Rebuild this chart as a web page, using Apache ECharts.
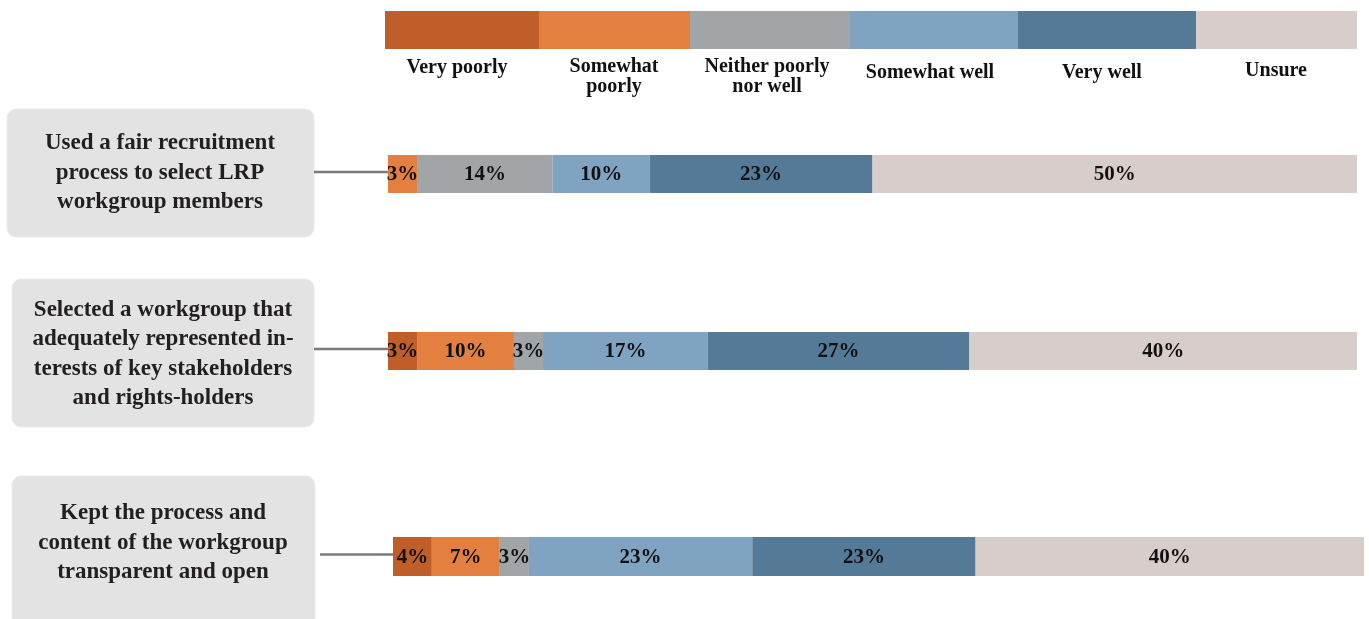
<!DOCTYPE html>
<html>
<head>
<meta charset="utf-8">
<script src="https://cdn.jsdelivr.net/npm/echarts@6/dist/echarts.min.js"></script>
<style>
html,body{margin:0;padding:0;background:#fff;}
#chart{width:1369px;height:619px;}
</style>
</head>
<body>
<div id="chart"></div>
<script>
// ---- data ----
var categories = ['Very poorly', 'Somewhat poorly', 'Neither poorly nor well', 'Somewhat well', 'Very well', 'Unsure'];
var legendLabels = ['Very poorly', 'Somewhat\npoorly', 'Neither poorly\nnor well', 'Somewhat well', 'Very well', 'Unsure'];
var questions = [
  'Used a fair recruitment\nprocess to select LRP\nworkgroup members',
  'Selected a workgroup that\nadequately represented in-\nterests of key stakeholders\nand rights-holders',
  'Kept the process and\ncontent of the workgroup\ntransparent and open'
];
var veryPoorly     = [0, 3, 4];
var somewhatPoorly = [3, 10, 7];
var neither        = [14, 3, 3];
var somewhatWell   = [10, 17, 23];
var veryWell       = [23, 27, 23];
var unsure         = [50, 40, 40];
var seriesValues = [veryPoorly, somewhatPoorly, neither, somewhatWell, veryWell, unsure];

// ---- styling / layout ----
var colors = ['#c05e29', '#e3803f', '#a1a5a8', '#7fa3c1', '#547a98', '#d7cdcb'];
var FONT = '"Liberation Serif", "DejaVu Serif", serif';
var grids = [
  {left: 388, right: 12, top: 155, height: 38},
  {left: 388, right: 12, top: 332, height: 38},
  {left: 393, right: 5, top: 537, height: 39}
];
var boxes = [
  {x: 7, y: 109, w: 307, h: 128, cx: 160, cy: 173, lineX1: 314, lineX2: 388},
  {x: 12, y: 279, w: 302, h: 148, cx: 163, cy: 354, lineX1: 314, lineX2: 388},
  {x: 12, y: 476, w: 303, h: 160, cx: 163, cy: 543, lineX1: 320, lineX2: 393}
];
var legendX = [385, 539, 690, 850, 1018, 1196, 1357];
var legendTextPos = [
  {x: 457, y: 68}, {x: 614, y: 77}, {x: 767, y: 77}, {x: 930, y: 73}, {x: 1102, y: 73}, {x: 1276, y: 71}
];

var chart = echarts.init(document.getElementById('chart'));

var xAxes = [], yAxes = [], series = [];
grids.forEach(function (g, gi) {
  xAxes.push({type: 'value', gridIndex: gi, min: 0, max: 100, show: false});
  yAxes.push({type: 'category', gridIndex: gi, data: [questions[gi]], show: false});
  categories.forEach(function (cat, ci) {
    series.push({
      type: 'bar',
      name: cat,
      xAxisIndex: gi,
      yAxisIndex: gi,
      stack: 'q' + gi,
      barWidth: '100%',
      data: [seriesValues[ci][gi]],
      itemStyle: {color: colors[ci]},
      label: {
        show: seriesValues[ci][gi] > 0,
        position: 'inside',
        offset: [0, 1],
        formatter: '{c}%',
        color: '#111',
        fontFamily: FONT,
        fontWeight: 'bold',
        fontSize: 21
      },
      emphasis: {disabled: true},
      animation: false
    });
  });
});

var graphics = [];
// legend blocks
for (var i = 0; i < categories.length; i++) {
  graphics.push({
    type: 'rect',
    shape: {x: legendX[i], y: 11, width: legendX[i + 1] - legendX[i], height: 38},
    style: {fill: colors[i]}
  });
  graphics.push({
    type: 'text',
    x: legendTextPos[i].x, y: legendTextPos[i].y,
    style: {
      text: legendLabels[i], fill: '#111', font: 'bold 20px ' + FONT,
      textAlign: 'center', textVerticalAlign: 'middle', lineHeight: 20
    }
  });
}
// question boxes and connectors
boxes.forEach(function (b, bi) {
  graphics.push({
    type: 'rect',
    shape: {x: b.x, y: b.y, width: b.w, height: b.h, r: 9},
    style: {fill: '#e3e3e3', stroke: '#ebebeb', lineWidth: 1}
  });
  graphics.push({
    type: 'text',
    x: b.cx, y: b.cy,
    style: {
      text: questions[bi], fill: '#231f20', font: 'bold 23px ' + FONT,
      textAlign: 'center', textVerticalAlign: 'middle', lineHeight: 29.5
    }
  });
  var ly = grids[bi].top + grids[bi].height / 2 - 2;
  graphics.push({
    type: 'line',
    shape: {x1: b.lineX1, y1: ly, x2: b.lineX2, y2: ly},
    style: {stroke: '#7a7a7a', lineWidth: 2.5}
  });
});

chart.setOption({
  animation: false,
  grid: grids,
  xAxis: xAxes,
  yAxis: yAxes,
  series: series,
  graphic: graphics
});
</script>
</body>
</html>
